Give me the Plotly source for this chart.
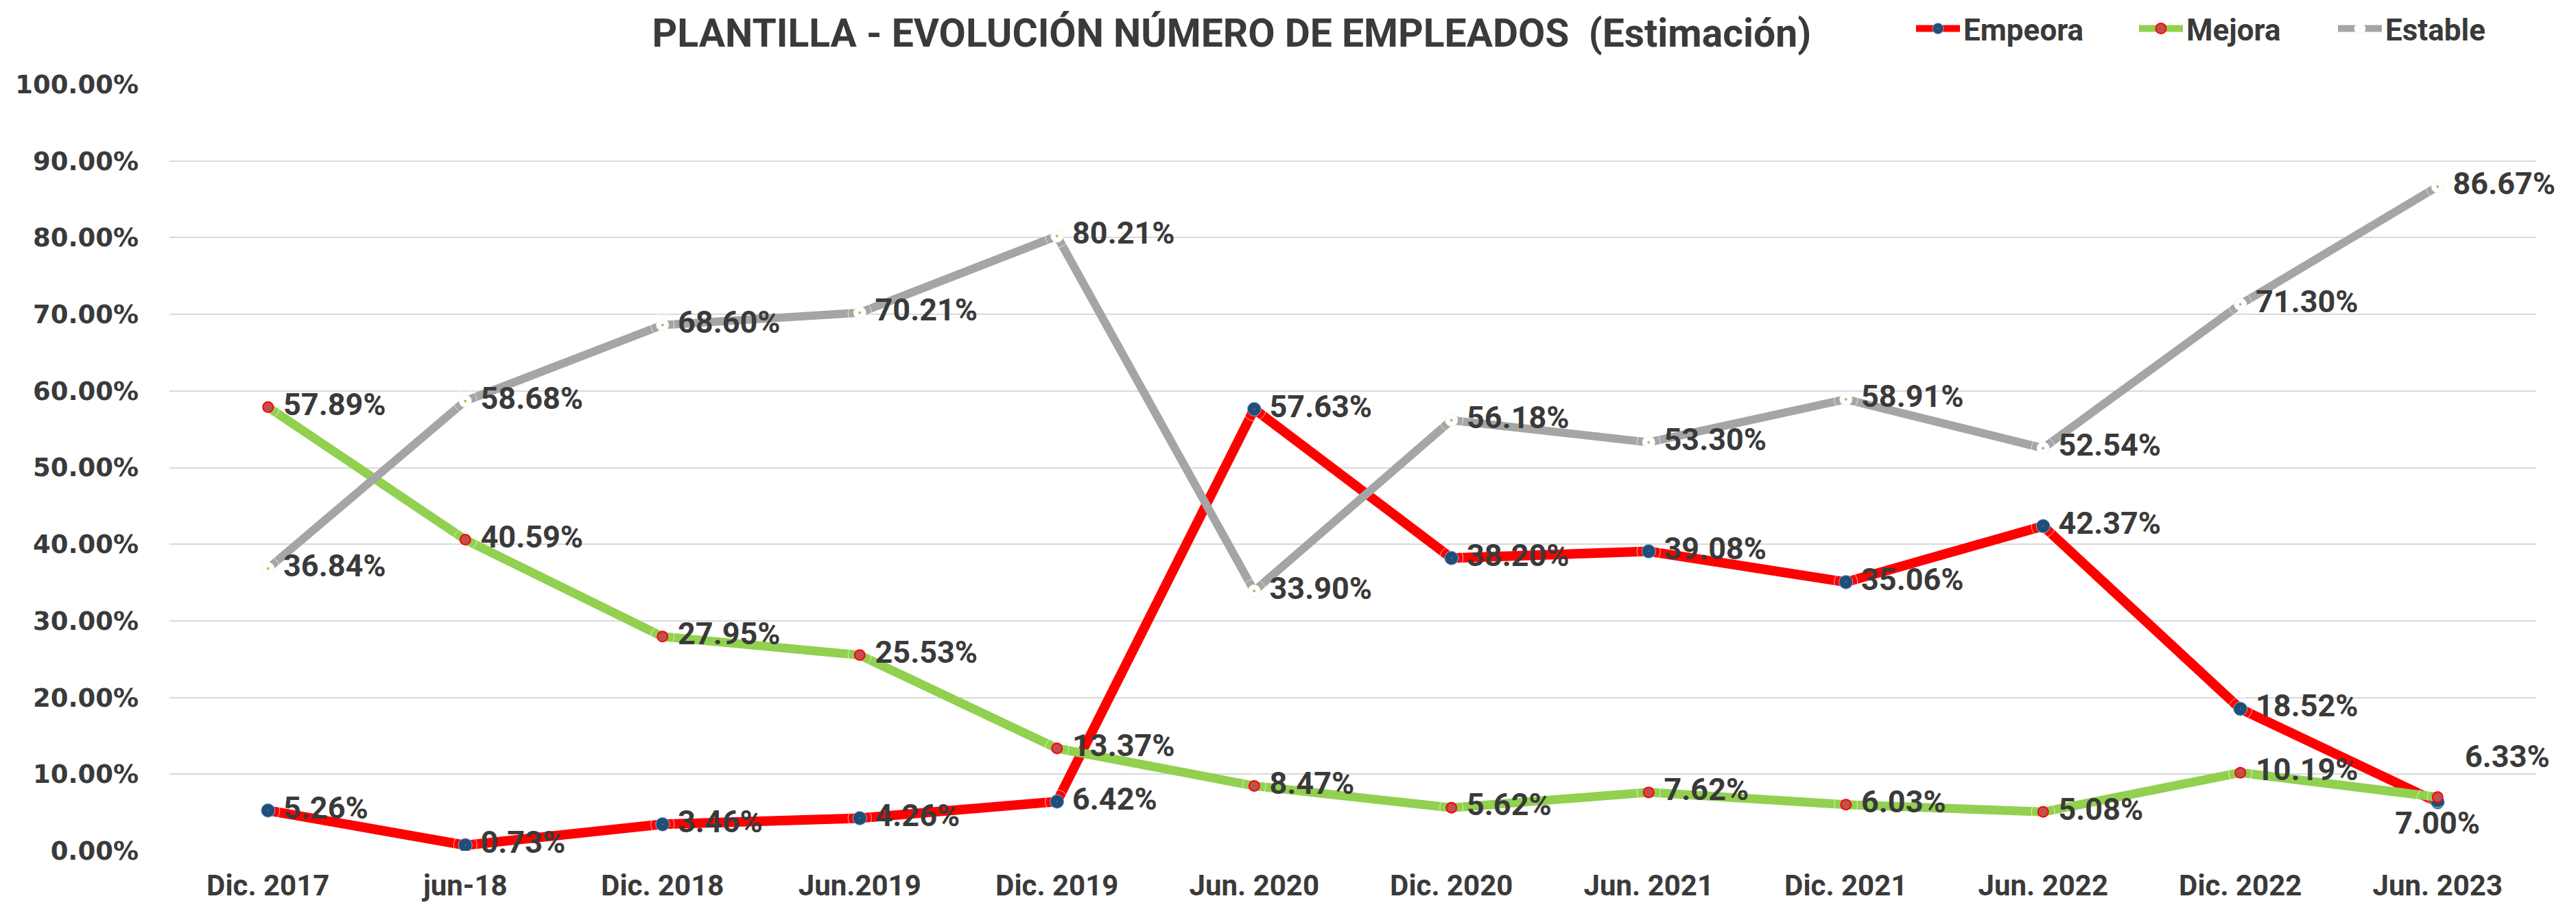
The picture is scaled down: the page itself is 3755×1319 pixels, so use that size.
import plotly.graph_objects as go

categories = ["Dic. 2017", "jun-18", "Dic. 2018", "Jun.2019", "Dic. 2019", "Jun. 2020",
              "Dic. 2020", "Jun. 2021", "Dic. 2021", "Jun. 2022", "Dic. 2022", "Jun. 2023"]
empeora = [5.26, 0.73, 3.46, 4.26, 6.42, 57.63, 38.20, 39.08, 35.06, 42.37, 18.52, 6.33]
mejora = [57.89, 40.59, 27.95, 25.53, 13.37, 8.47, 5.62, 7.62, 6.03, 5.08, 10.19, 7.00]
estable = [36.84, 58.68, 68.60, 70.21, 80.21, 33.90, 56.18, 53.30, 58.91, 52.54, 71.30, 86.67]
y_ticks = [0, 10, 20, 30, 40, 50, 60, 70, 80, 90, 100]

NARROW = "Roboto, Liberation Sans, sans-serif"
WIDE = "Verdana, DejaVu Sans, sans-serif"
TXT = "#3a3a3a"

def frac(v):
    return [x / 100 for x in v]

fig = go.Figure()

series = [
    ("Empeora", empeora, "#FF0000", 14, dict(color="#1F4E79", size=20, symbol="circle-dot",
                                             line=dict(color="#8FB4D9", width=1)), "legend"),
    ("Mejora", mejora, "#92D050", 13, dict(color="#C0504D", size=15, symbol="circle",
                                           line=dict(color="#FF0000", width=2)), "legend2"),
    ("Estable", estable, "#A5A5A5", 12, dict(color="#FFFFFF", size=18, symbol="circle",
                                             line=dict(color="#F2F2F2", width=1)), "legend3"),
]

for name, vals, col, w, mk, lg in series:
    fig.add_trace(go.Scatter(x=categories, y=frac(vals), name=name, mode="lines+markers",
                             line=dict(color=col, width=w), marker=mk, legend=lg))

# tiny green centre dot of the Estable markers
fig.add_trace(go.Scatter(x=categories, y=frac(estable), mode="markers", showlegend=False,
                         marker=dict(color="#92D050", size=4), hoverinfo="skip"))

# label placement (position and offset radius per point)
pos_e = ["middle right"] * 11 + ["top right"]
pos_m = ["middle right"] * 11 + ["bottom center"]
pos_s = ["middle right"] * 12
off_e = [34] * 11 + [62]
off_m = [34] * 11 + [30]
off_s = [34] * 12
for vals, pos, off in [(empeora, pos_e, off_e), (mejora, pos_m, off_m), (estable, pos_s, off_s)]:
    fig.add_trace(go.Scatter(x=categories, y=frac(vals), mode="markers+text", showlegend=False,
                             marker=dict(size=off, color="rgba(0,0,0,0)"), cliponaxis=False,
                             text=[f"{v:.2f}%" for v in vals], textposition=pos,
                             textfont=dict(family=NARROW, size=45, color=TXT, weight="bold"),
                             hoverinfo="skip"))

leg_font = dict(family=NARROW, size=44, color=TXT, weight="bold")
def leg(xpx):
    return dict(orientation="h", x=xpx / 3755, xref="container", xanchor="left",
                y=1 - 34 / 1319, yref="container", yanchor="middle",
                font=leg_font, itemwidth=64, bgcolor="rgba(0,0,0,0)")

fig.update_layout(
    width=3755, height=1319,
    margin=dict(l=239, r=66, t=115, b=87),
    paper_bgcolor="white", plot_bgcolor="white",
    title=dict(text="PLANTILLA - EVOLUCIÓN NÚMERO DE EMPLEADOS  (Estimación)",
               x=0.476, xref="container", xanchor="center",
               y=1 - 40 / 1319, yref="container", yanchor="middle",
               font=dict(family=NARROW, size=57, color=TXT, weight="bold")),
    legend=leg(2780), legend2=leg(3105), legend3=leg(3395),
    xaxis=dict(type="category", range=[-0.5, 11.5], showgrid=False, showline=False,
               zeroline=False, ticklabelstandoff=22, automargin=False,
               tickfont=dict(family=NARROW, size=42, color=TXT, weight="bold")),
    yaxis=dict(range=[0, 1], tickvals=[t / 100 for t in y_ticks], tickformat=".2%",
               showgrid=True, gridcolor="#D9D9D9", gridwidth=2, zeroline=False,
               showline=False, ticklabelstandoff=44, automargin=False,
               tickfont=dict(family=WIDE, size=37, color=TXT, weight="bold")),
)

fig.write_html("out.html")
